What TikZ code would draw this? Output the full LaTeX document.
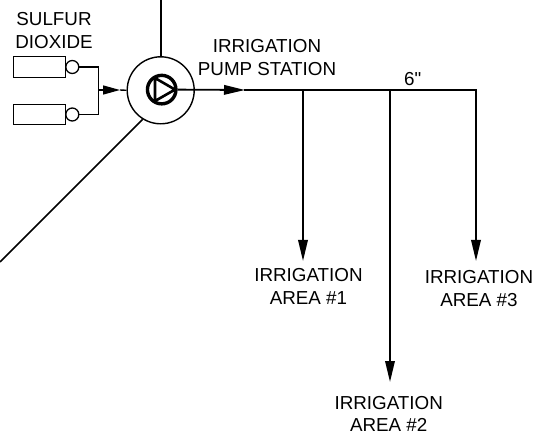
\documentclass[tikz,border=0pt]{standalone}
\usepackage{fontspec}
\setmainfont{Liberation Sans}
\newfontfamily\plainsans{Liberation Sans}
\usetikzlibrary{arrows.meta}
\tikzset{
  pipe/.style={line width=1.8pt,draw=black},
  flowa/.style={pipe,-{Triangle[length=21pt,width=9.5pt]}},
  thin box/.style={draw=black,line width=1.3pt,minimum width=52.5pt,minimum height=20.5pt,inner sep=0pt},
  valve/.style={circle,draw=black,line width=1.3pt,minimum size=13pt,inner sep=0pt},
  lbl/.style={font=\fontsize{18.8pt}{22.5pt}\selectfont,align=center,inner sep=0pt,text=black}
}
\begin{document}
\begin{tikzpicture}[x=1pt,y=-1pt]
\useasboundingbox (0,0) rectangle (542,436);
% equipment
\node[circle,draw=black,line width=1.4pt,minimum size=67pt,inner sep=0pt] (station) at (160.7,90.3) {};
\node[circle,draw=black,line width=3.4pt,minimum size=28.5pt,inner sep=0pt] (pump) at (161.7,89.6) {};
\draw[line width=2.6pt,line join=round] (155,78) -- (155,101) -- (175,89.6) -- cycle;
\node[thin box] (tank1) at (39.5,67) {};
\node[thin box] (tank2) at (39.5,114.5) {};
\node[valve] (v1) at (72.3,67) {};
\node[valve] (v2) at (72.3,114.5) {};
% coordinates
\coordinate (top) at (161,0);
\coordinate (sw) at (0,262);
\coordinate (j1) at (98.5,67);
\coordinate (j2) at (98.5,114.5);
\coordinate (jm) at (98.5,90);
\coordinate (m0) at (245,90);
\coordinate (a) at (303,90);
\coordinate (b) at (390,90);
\coordinate (c) at (476,90);
\coordinate (at) at (303,261);
\coordinate (bt) at (390,382);
\coordinate (ct) at (476,261);
% pipes
\draw[pipe] (top) -- (station.north -| top);
\draw[pipe,line width=1.6pt] (station.238) -- (sw);
\draw[pipe,line width=1.4pt] (v1.east) -- (j1) -- (j2) -- (v2.east);
\draw[pipe,line width=1.4pt,-{Triangle[length=17pt,width=9pt]}] (jm) -- (120,90);
\draw[pipe,line width=1.4pt] (120,90) -- (station.west);
\draw[flowa] (pump.east) -- (m0);
\draw[pipe,line cap=rect] (m0) -- (c);
\draw[flowa] (a) -- (at);
\draw[flowa] (b) -- (bt);
\draw[flowa] (c) -- (ct);
% labels
\node[lbl] (l1) at (54,30.3) {SULFUR\\DIOXIDE};
\node[lbl] (l2) at (267,57.7) {IRRIGATION\\PUMP STATION};
\node[lbl] (l3) at (412.7,79) {\plainsans 6"};
\node[lbl] (l4) at (308.5,286.2) {IRRIGATION\\AREA \#1};
\node[lbl] (l5) at (479,288.7) {IRRIGATION\\AREA \#3\hspace{7pt}};
\node[lbl] (l6) at (388.7,413.7) {IRRIGATION\\AREA \#2};
\end{tikzpicture}
\end{document}
